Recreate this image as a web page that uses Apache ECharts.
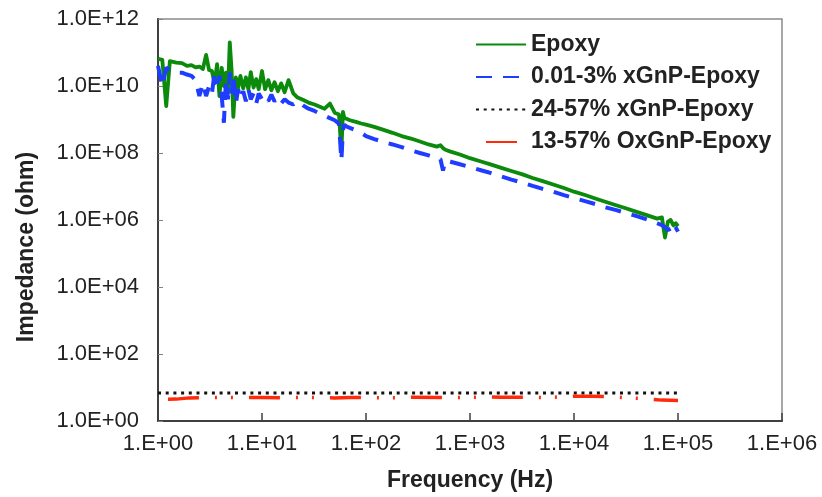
<!DOCTYPE html>
<html><head><meta charset="utf-8">
<script src="https://cdn.jsdelivr.net/npm/echarts@6/dist/echarts.min.js"></script>
<style>html,body{margin:0;padding:0;background:#fff}#c{width:822px;height:497px}</style>
</head><body><div id="c"></div>
<script>
// Frequencies (Hz) for the Epoxy and 0.01-3% xGnP-Epoxy series
const freq = [1, 1.1, 1.2, 1.3, 1.5, 1.7, 1.9, 2.1, 2.3, 2.5, 2.7, 2.9, 3.1, 3.3, 3.5, 3.7, 3.9, 4.1, 4.3, 4.5, 4.7, 4.9, 5.1, 5.3, 5.6, 5.9, 6.2, 6.6, 7, 7.4, 7.8, 8.3, 8.8, 9.3, 10, 10.7, 11.5, 12.3, 13.2, 14.2, 15.3, 16.5, 18, 20,
  22, 25, 28, 32, 36, 40, 45, 50, 55, 58, 60, 62, 65, 70, 80, 90,
  100, 120, 150, 180, 220, 270, 330, 400, 480, 520, 550, 580, 650, 800,
  1000, 1300, 1600, 2000, 2500, 3200, 4000, 5000, 6300, 8000,
  10000, 13000, 16000, 20000, 25000, 32000, 40000, 50000, 63000, 70000, 75000, 80000, 85000, 90000, 95000, 100000];

// Impedance (ohm) of Epoxy
const epoxy = [6.5e10, 6.0e10, 2.5e9, 5.5e10, 5.0e10, 4.8e10, 4.0e10, 4.2e10, 3.6e10, 3.8e10, 3.2e10, 8.5e10, 3.0e10, 2.8e10, 1.2e10, 4.5e10, 5.0e9, 3.5e10, 1.0e10, 2.5e10, 6.0e9, 2.0e11, 3.0e10, 1.2e9,
  1.8e10, 9e9, 2.0e10, 8.5e9, 1.8e10, 8e9, 2.6e10, 9e9, 1.6e10, 8e9, 2.8e10, 8e9, 1.5e10, 7.5e9, 1.3e10, 7e9, 1.2e10, 6.5e9, 1.5e10, 6e9,
  4.5e9, 3.8e9, 3.2e9, 2.8e9, 2.4e9, 2.1e9, 3.0e9, 1.6e9, 1.4e9, 1.1e8, 1.7e9, 1.1e9, 1.05e9, 9.5e8, 8.5e8, 7.6e8,
  7.0e8, 6.0e8, 4.8e8, 4.0e8, 3.2e8, 2.7e8, 2.2e8, 1.8e8, 1.55e8, 1.7e8, 1.4e8, 1.25e8, 1.1e8, 9.0e7,
  7.0e7, 5.5e7, 4.5e7, 3.6e7, 2.9e7, 2.3e7, 1.8e7, 1.45e7, 1.15e7, 9.0e6,
  7.0e6, 5.5e6, 4.4e6, 3.5e6, 2.8e6, 2.2e6, 1.75e6, 1.4e6, 1.1e6, 1.2e6, 3.0e5, 9.0e5, 1.0e6, 7.0e5, 8.0e5, 6.5e5];

// Impedance (ohm) of 0.01-3% xGnP-Epoxy
const xgnpLow = [4.0e10, 1.0e10, 3.5e10, 3.0e10, 2.5e10, 2.5e10, 2.2e10, 2.0e10, 1.5e10, 5.0e9, 1.2e10, 5.0e9, 1.0e10, 6.0e9, 2.5e10, 1.2e10, 2.0e10, 5.0e9, 8.0e8, 1.5e10, 4.0e9, 2.5e10, 6.0e9, 2.0e10,
  3.0e9, 8.0e9, 4.0e9, 7.0e9, 3.5e9, 8.0e9, 4.0e9, 6.0e9, 3.0e9, 6.0e9, 4.0e9, 5.0e9, 3.5e9, 5.5e9, 3.5e9, 4.5e9, 3.0e9, 4.0e9, 3.2e9, 2.8e9,
  3.5e9, 2.6e9, 2.1e9, 1.8e9, 1.5e9, 1.3e9, 1.1e9, 9.5e8, 7.5e8, 6.0e7, 5.0e8, 7.0e8, 6.2e8, 5.6e8, 4.7e8, 4.0e8,
  3.2e8, 2.6e8, 2.1e8, 1.8e8, 1.5e8, 1.2e8, 1.0e8, 8.5e7, 7.0e7, 6.5e7, 3.0e7, 6.0e7, 5.5e7, 4.6e7,
  3.8e7, 3.0e7, 2.5e7, 2.0e7, 1.6e7, 1.3e7, 1.05e7, 8.5e6, 7.0e6, 5.5e6,
  4.5e6, 3.6e6, 3.0e6, 2.4e6, 2.0e6, 1.6e6, 1.3e6, 1.05e6, 8.0e5, 7.0e5, 6.0e5, 5.0e5, 5.5e5, 4.0e5, 6.0e5, 4.5e5];

// Frequencies (Hz) for the two high-loading series
const freqFlat = [1, 1.5, 2, 3, 5, 7, 10, 15, 20, 30, 50, 70, 100, 150, 200, 300, 500, 700, 1000, 1500, 2000, 3000, 5000, 7000, 10000, 15000, 20000, 30000, 50000, 70000, 100000];
// Impedance (ohm) of 24-57% xGnP-Epoxy
const xgnpHigh = [6.9, 6.9, 6.9, 6.8, 6.9, 6.9, 6.8, 6.9, 6.9, 6.8, 6.9, 6.9, 6.8, 6.9, 6.9, 6.8, 6.9, 6.9, 6.8, 6.9, 6.9, 6.8, 6.9, 6.9, 6.9, 6.8, 6.9, 6.9, 6.8, 6.9, 6.8];
// Impedance (ohm) of 13-57% OxGnP-Epoxy
const oxgnp = [4.4, 4.5, 4.9, 5.0, 5.0, 5.0, 5.0, 4.9, 5.0, 5.0, 4.9, 5.0, 5.0, 4.9, 5.0, 5.1, 5.0, 5.0, 5.1, 5.2, 5.1, 5.1, 5.0, 5.2, 5.5, 5.5, 5.4, 5.0, 4.6, 4.2, 4.1];

const seriesNames = ['Epoxy', '0.01-3% xGnP-Epoxy', '24-57% xGnP-Epoxy', '13-57% OxGnP-Epoxy'];
const xTickLabels = ['1.E+00', '1.E+01', '1.E+02', '1.E+03', '1.E+04', '1.E+05', '1.E+06'];
const yTickLabels = {0: '1.0E+00', 2: '1.0E+02', 4: '1.0E+04', 6: '1.0E+06', 8: '1.0E+08', 10: '1.0E+10', 12: '1.0E+12'};
const xTitle = 'Frequency (Hz)';
const yTitle = 'Impedance (ohm)';

const FONT = '"Liberation Sans", Arial, sans-serif';
const TXT = '#222';

const chart = echarts.init(document.getElementById('c'), null, {renderer: 'canvas'});
const pairs = (xs, ys) => xs.map((x, i) => [x, ys[i]]);

chart.setOption({
  animation: false,
  backgroundColor: '#fff',
  grid: {left: 158, right: 40, top: 19, bottom: 73, show: true, borderColor: '#8a8a8a', borderWidth: 1.5, backgroundColor: 'transparent'},
  legend: {
    left: 470, top: 28, orient: 'vertical',
    itemWidth: 50, itemHeight: 14, itemGap: 9.5,
    itemStyle: {opacity: 0, borderWidth: 0},
    textStyle: {fontFamily: FONT, fontSize: 23, fontWeight: 'bold', color: TXT, lineHeight: 22},
    data: seriesNames
  },
  xAxis: {
    type: 'log', logBase: 10, min: 1, max: 1e6,
    name: xTitle, nameLocation: 'middle', nameGap: 48,
    nameTextStyle: {fontFamily: FONT, fontSize: 23, fontWeight: 'bold', color: TXT},
    axisLine: {show: true, lineStyle: {color: '#404040', width: 2}},
    axisTick: {show: true, inside: true, length: 8, lineStyle: {color: '#404040', width: 1.5}},
    minorTick: {show: false},
    splitLine: {show: false},
    axisLabel: {fontFamily: FONT, fontSize: 22, color: TXT, margin: 12,
      formatter: v => xTickLabels[Math.round(Math.log10(v))]}
  },
  yAxis: {
    type: 'log', logBase: 100, min: 1, max: 1e12,
    axisLine: {show: true, lineStyle: {color: '#404040', width: 2}},
    axisTick: {show: true, inside: true, length: 5, lineStyle: {color: '#808080', width: 1}},
    splitLine: {show: false},
    axisLabel: {fontFamily: FONT, fontSize: 22, color: TXT, margin: 19,
      formatter: v => yTickLabels[Math.round(Math.log10(v))] || ''}
  },
  graphic: [{
    type: 'text',
    style: {text: yTitle, font: 'bold 23px ' + FONT, fill: TXT, textAlign: 'center', textVerticalAlign: 'middle'},
    rotation: Math.PI / 2,
    x: 27, y: 247
  }],
  series: [
    {name: seriesNames[0], type: 'line', data: pairs(freq, epoxy), symbol: 'none', showSymbol: false,
      lineStyle: {color: '#0b8a0b', width: 3.8, join: 'round'}, itemStyle: {color: '#0b8a0b'}, z: 2},
    {name: seriesNames[1], type: 'line', data: pairs(freq, xgnpLow), symbol: 'none', showSymbol: false,
      lineStyle: {color: '#1f3dff', width: 4, type: [16, 11]}, itemStyle: {color: '#1f3dff'}, z: 3},
    {name: seriesNames[2], type: 'line', data: pairs(freqFlat, xgnpHigh), symbol: 'none', showSymbol: false,
      lineStyle: {color: '#111', width: 3, type: [3, 4.7]}, itemStyle: {color: '#111'}, z: 4},
    {name: seriesNames[3], type: 'line', data: pairs(freqFlat, oxgnp), symbol: 'none', showSymbol: false,
      lineStyle: {color: '#ff2a0a', width: 3.5, type: [31, 16, 2, 14, 2, 16], dashOffset: 71}, itemStyle: {color: '#ff2a0a'}, z: 5}
  ]
});
</script>
</body></html>
